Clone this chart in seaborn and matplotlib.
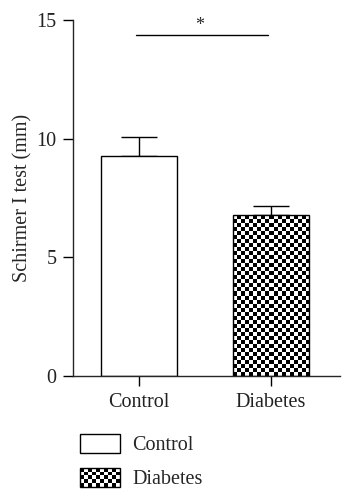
import numpy as np
import matplotlib
matplotlib.use('Agg')
from matplotlib import pyplot as plt
from matplotlib.patches import Rectangle
from matplotlib.legend_handler import HandlerBase
import pandas as pd
import seaborn as sns

groups = ['Control', 'Diabetes']
means = [9.25, 6.77]
sems = [0.80, 0.38]
sig_y = 14.35

sns.set_style('ticks')
plt.rcParams['font.family'] = ['Liberation Serif', 'DejaVu Serif']
plt.rcParams['axes.linewidth'] = 1.0

df = pd.DataFrame({'group': groups, 'score': means})

fig = plt.figure(figsize=(3.52, 5), dpi=100)
ax = fig.add_axes([73 / 352, 1 - 376 / 500, 267 / 352, 356 / 500])

sns.barplot(data=df, x='group', y='score', ax=ax, color='white',
            edgecolor='black', linewidth=1.0, width=0.58, errorbar=None,
            zorder=2)
ax.errorbar(range(len(groups)), means, yerr=[[0] * len(groups), sems],
            fmt='none', ecolor='black', elinewidth=1.0, capsize=13.3,
            capthick=1.0, zorder=1)

ax.set_xlim(-0.5, 1.523)
ax.set_ylim(0, 15)
ax.set_yticks([0, 5, 10, 15])
ax.set_xlabel('')
ax.set_ylabel('Schirmer I test (mm)', fontsize=14.5, labelpad=3)
ax.tick_params(axis='both', labelsize=14.5, length=7, width=1.0,
               color='black', labelcolor='#222222', pad=5)
sns.despine(ax=ax)

# significance bar
ax.plot([-0.02, 0.977], [sig_y, sig_y], color='black', lw=1.0)
ax.text(0.46, sig_y + 0.42, '*', ha='center', va='center', fontsize=13)


def checker(nr, nc):
    return (np.indices((nr, nc)).sum(axis=0) % 2).astype(float)


# checkerboard fill for the diabetes bar
fig.canvas.draw()
bar = ax.patches[1]
bb = bar.get_window_extent()
nc = max(1, int(round(bb.width / 4)))
nr = max(1, int(round(bb.height / 4)))
x0, y0 = bar.get_x(), bar.get_y()
img = ax.imshow(checker(nr, nc), cmap='gray', interpolation='nearest',
                aspect='auto', origin='lower',
                extent=(x0, x0 + bar.get_width(), y0, y0 + bar.get_height()),
                zorder=2.5)
img.set_clip_path(bar)
bar.set_zorder(3)
bar.set_facecolor('none')
ax.set_xlim(-0.5, 1.523)
ax.set_ylim(0, 15)


class CheckerHandler(HandlerBase):
    def create_artists(self, legend, orig_handle, xdescent, ydescent,
                       width, height, fontsize, trans):
        arts = []
        nc, nr = 10, 5
        cw, ch = width / nc, height / nr
        for i in range(nr):
            for j in range(nc):
                if (i + j) % 2 == 0:
                    arts.append(Rectangle((-xdescent + j * cw, -ydescent + i * ch),
                                          cw, ch, facecolor='black',
                                          edgecolor='none', transform=trans))
        arts.append(Rectangle((-xdescent, -ydescent), width, height,
                              facecolor='none', edgecolor='black', lw=1.0,
                              transform=trans))
        return arts


h_ctrl = Rectangle((0, 0), 1, 1, facecolor='white', edgecolor='black', lw=1.0)
h_diab = Rectangle((0, 0), 1, 1, facecolor='white', edgecolor='black', lw=1.0)
fig.legend([h_ctrl, h_diab], groups, loc='upper left',
           bbox_to_anchor=(62 / 352, 1 - 416 / 500), frameon=False,
           fontsize=14.5, handlelength=2.0, handleheight=1.05,
           labelspacing=0.62, handletextpad=0.6,
           handler_map={h_diab: CheckerHandler()})

plt.savefig('out.png', dpi=100)
